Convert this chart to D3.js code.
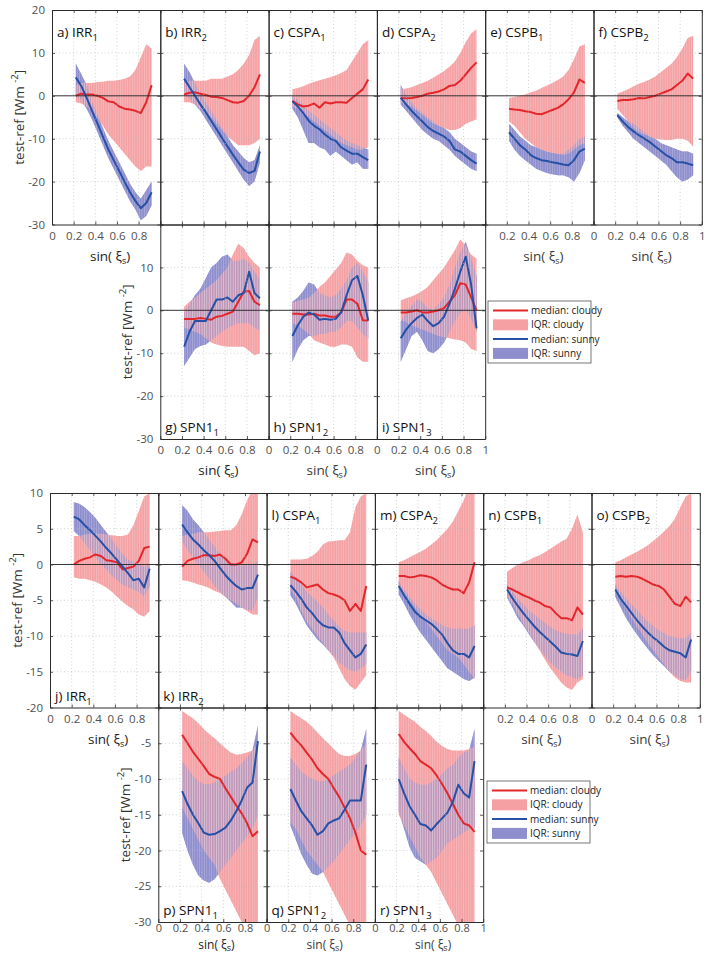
<!DOCTYPE html>
<html>
<head>
<meta charset="utf-8">
<script src="https://d3js.org/d3.v7.min.js"></script>
<style>
  body { margin: 0; background: #fff; }
  svg text { font-family: "Open Sans", "DejaVu Sans", sans-serif; }
</style>
</head>
<body>
<div id="chart"></div>
<script>
// sample positions along sin(xi_s)
var sinX = [0.22,0.27,0.32,0.37,0.42,0.47,0.52,0.57,0.62,0.67,0.72,0.77,0.82,0.87,0.92];

// ---- upper figure ----
// a) IRR1
var a_cMed = [0,0.5,0.3,0.3,0,-0.5,-1.3,-1.5,-2.5,-3,-3.2,-3.5,-4,-1.5,2.5];
var a_cLo  = [-1.5,-1.8,-2.5,-3.5,-5,-7,-9,-10.5,-12,-13.5,-15,-16.5,-17.5,-16.5,-16.5];
var a_cHi  = [2.5,3,3,3,3.2,3.3,3.5,3.5,3.7,4,4.5,6,9,12,11];
var a_sMed = [4.3,2.3,-0.5,-3.5,-6.5,-9.5,-12.5,-15,-17.5,-20,-22.5,-24.5,-26.2,-25,-22.5];
var a_sLo  = [0,-1,-3,-5.5,-8.5,-11.5,-14.5,-17,-19.5,-22,-24.5,-26.5,-29,-28,-25.5];
var a_sHi  = [7.5,5,2.5,-1.5,-4.5,-7.5,-10.5,-13,-15.5,-18,-20.5,-22.5,-24,-22,-20];
// b) IRR2
var b_cMed = [0.3,0.7,0.8,0.5,0.2,-0.2,-0.3,-0.5,-1,-1.5,-1.6,-1.2,0,2,5];
var b_cLo  = [-1.5,-1.5,-2,-3,-4,-5,-6.5,-8,-9.5,-10.5,-11.5,-11.5,-11.5,-11,-10];
var b_cHi  = [3,3.5,3.5,3.5,3.5,4,4,4,4.5,5,6,7.5,9.5,13,14];
var b_sMed = [4,2,0,-2,-3.8,-5.8,-7.8,-9.8,-11.8,-13.7,-15.5,-17.2,-18,-17.5,-13];
var b_sLo  = [1,-0.5,-2,-3.5,-5.5,-7.5,-9.5,-11.5,-13.5,-15.5,-17.5,-19.5,-21,-20,-15.5];
var b_sHi  = [7.5,5.5,3,0.5,-1.5,-3.5,-5.5,-7.5,-9.5,-11.5,-13,-14.5,-15.5,-15,-11.5];
// c) CSPA1
var c_cMed = [-1.2,-2,-2.5,-2.3,-1.8,-2.8,-1.5,-1.8,-1.5,-1.5,-1.6,-0.5,0.5,1.5,3.8];
var c_cLo  = [-2.5,-3,-4,-5,-6,-7,-8,-9,-10,-11,-11.5,-12,-12.5,-12.5,-12];
var c_cHi  = [1.5,1.8,2.2,2.8,3.2,3.6,4,4.3,4.8,5.3,6,8,10,12,13];
var c_sMed = [-1.3,-2.5,-4,-5.8,-7,-7.8,-9,-10,-10.5,-12,-12.8,-13.5,-13.5,-14.3,-15];
var c_sLo  = [-3,-5,-8,-11,-11,-12,-12.5,-14,-13,-14,-15,-16,-15.5,-17,-17];
var c_sHi  = [0,-1,-2,-3.5,-4.5,-5.5,-6.5,-7.5,-8.5,-9.5,-10.5,-11,-11.5,-12,-12.5];
// d) CSPA2
var d_cMed = [-0.5,-0.6,-0.5,-0.3,0,0.5,0.7,1,1.5,2.3,2.5,3.5,5,6.5,7.8];
var d_cLo  = [-1.5,-2,-2.5,-3.5,-4.5,-5.5,-6.5,-7,-7.5,-8,-8,-7.5,-6.5,-6,-5.5];
var d_cHi  = [1.5,1.7,2,2.5,3,3.5,4.2,5,5.8,6.8,8,10,12.5,14.5,15.5];
var d_sMed = [-0.5,-2,-3.5,-4.8,-6,-7.3,-8.2,-8.8,-9.5,-10.5,-12.5,-13,-14,-15,-15.8];
var d_sLo  = [-2,-3.5,-5,-6.5,-8,-9,-10,-10.5,-11.5,-12.5,-14,-15,-16,-17,-17.5];
var d_sHi  = [2.5,0,-1.5,-3,-4,-5,-6,-7,-7.5,-8.5,-10,-11,-12,-13,-13.5];
// e) CSPB1
var e_cMed = [-3,-3.2,-3.3,-3.6,-3.8,-4.2,-4.3,-3.8,-3.3,-2.8,-2,-0.8,0.8,3.8,3];
var e_cLo  = [-6,-7,-8.5,-10,-11,-12,-12.5,-13,-13.3,-13.5,-13.8,-13.5,-12.5,-11.5,-11];
var e_cHi  = [-0.5,-0.3,0,0.3,0.8,1.2,1.8,2.4,3,3.7,4.5,6,8.5,11.5,12];
var e_sMed = [-8.5,-10,-11.5,-12.5,-13.8,-14.5,-15,-15.2,-15.5,-15.7,-16,-16.2,-15,-13,-12.3];
var e_sLo  = [-10.5,-12.5,-14,-15,-16,-17,-17.5,-18,-18.3,-18.5,-18.5,-19,-20,-18,-15];
var e_sHi  = [-6.5,-8,-9.5,-10.5,-11.5,-12,-12.5,-13,-13.3,-13.5,-13.5,-12.5,-11.5,-10,-9.5];
// f) CSPB2
var f_cMed = [-1.2,-1,-1,-0.8,-0.5,-0.6,-0.3,0,0.5,1,1.5,2.5,3.5,5.2,4];
var f_cLo  = [-3,-4.5,-6,-7.5,-8.5,-9,-9.5,-10,-10.2,-10.3,-10.3,-10,-10,-10.5,-11.8];
var f_cHi  = [0.5,1,1.5,2.2,2.8,3.3,3.8,4.5,5.5,6.5,7.5,9,11,13.5,14];
var f_sMed = [-4.5,-6,-7.3,-8.3,-9.2,-10,-10.8,-11.8,-12.8,-13.8,-14.5,-15.5,-15.5,-15.8,-16.2];
var f_sLo  = [-5,-7,-8.5,-10,-11,-12,-13,-14,-15,-16,-17.5,-19,-20,-19.5,-18.5];
var f_sHi  = [-4,-5,-6,-6.5,-7.5,-8.5,-9.5,-10,-11,-11.5,-12,-12.5,-13,-13,-13.5];
// g) SPN1_1
var g_cMed = [-2,-2,-2,-1.8,-2,-2.2,-1.5,-1.3,-0.8,-0.3,2,4.3,4.5,2,1.2];
var g_cLo  = [-4,-4.5,-5,-5.5,-6.5,-7.5,-8,-8.3,-8.5,-8.5,-8.5,-8.5,-9.5,-10.5,-10];
var g_cHi  = [0.8,2,3,4,5,6,7,8.5,10,13,15.5,14.5,12.5,11,10];
var g_sMed = [-8.5,-5,-2.5,-2.5,-2.5,0,2.5,2.5,3,2,3.5,4,9,4,2.8];
var g_sLo  = [-13,-11,-9,-8.3,-8,-7,-6,-5,-4.2,-3.5,-3,-3,-3,-4,-4.8];
var g_sHi  = [-0.5,1.5,3.5,5,7.5,10,11,12.5,13,11.5,11.5,12,11,9,7];
// h) SPN1_2
var h_cMed = [-0.8,-0.8,-1,-1,-0.8,-1.2,-1.2,-1.5,-1.5,-0.5,2.5,2.5,1.5,-2.3,-2.4];
var h_cLo  = [-3,-3.5,-4.5,-5.5,-7,-7.5,-8,-8.5,-8.5,-8,-8,-8.5,-11,-12,-12];
var h_cHi  = [1.8,2.2,2.5,3,4,5.5,6.5,8,9.5,11,13.5,13,11.5,10.5,10];
var h_sMed = [-6,-3.5,-1.5,-0.5,-1,-2.2,-2,-2.2,-2,-0.5,3.5,7,8,3.5,-2.4];
var h_sLo  = [-12,-9,-7,-6,-6,-5.5,-5.5,-5,-5,-4,-2.5,-2.5,-4,-5.5,-6.5];
var h_sHi  = [2,3,4.5,6.5,6,4,3.5,3,3.5,5,7,10,11,9,6.5];
// i) SPN1_3
var i_cMed = [-0.5,-0.5,-0.3,0,-0.5,-0.5,-0.3,0,0.5,2,3.5,6.3,6,3,0];
var i_cLo  = [-2.2,-2.8,-3.5,-4,-4.5,-5,-5.5,-6,-6.3,-6.5,-6.8,-7,-7.5,-9,-9.5];
var i_cHi  = [2.3,2.8,3.2,3.8,4.5,5.5,7,8.5,10,12,14,16.5,15,13,12];
var i_sMed = [-6.5,-4.5,-3,-1.8,-1,-2.5,-3.7,-3,-1.5,1.5,5,9,12.5,6,-4.2];
var i_sLo  = [-12,-9,-6,-5,-7,-9.5,-10,-9,-7.5,-5,-2.5,-0.5,0,-2,-5];
var i_sHi  = [-2.5,-0.5,1,2.5,2,0.5,0,1.5,3,6,10,13.5,16,12,8];

// ---- lower figure ----
// j) IRR1
var j_cMed = [0,0.5,0.8,1,1.4,1.2,0.6,0.5,0.3,-0.7,-0.5,-0.3,0.5,2.3,2.5];
var j_cLo  = [-1.8,-2,-2,-2.2,-2.4,-2.8,-3.2,-3.8,-4.5,-5.2,-5.8,-6.3,-7,-7.3,-6.5];
var j_cHi  = [4,4,4.2,4.3,4.3,4.3,4.2,4.1,4,4,4.2,5.5,7.5,9.5,10];
var j_sMed = [6.7,6.3,5.5,4.8,4,3.2,2.3,1.5,0.6,-0.3,-1.2,-2.2,-2,-3.2,-0.6];
var j_sLo  = [4.7,4,3,2,1,0,-0.7,-1.5,-2.2,-2.8,-3.2,-3.5,-3.8,-4.5,-3];
var j_sHi  = [8.7,8.5,8,7.3,6.5,5.5,4.5,3.5,2.5,1.5,0.7,0.3,0,-0.3,0];
// k) IRR2
var k_cMed = [-0.3,0.5,0.8,1,1.3,1.3,1.2,1.4,0.8,0,0,0.3,1.5,3.5,3.1];
var k_cLo  = [-2.2,-2.3,-2.5,-2.8,-3,-3.3,-3.7,-4,-4.5,-5,-5.5,-6,-6.5,-7,-7];
var k_cHi  = [4,4.2,4.3,4.5,4.5,4.5,4.6,4.7,4.8,4.8,5.5,7,9,10.5,11];
var k_sMed = [5.6,4.5,3.5,2.8,2,1.3,0.5,-0.5,-1.5,-2.3,-3,-3.5,-3.3,-3.3,-1.4];
var k_sLo  = [3.3,2,1,0,-1,-2,-3,-3.8,-4.5,-5.2,-6,-6,-6.3,-6.5,-4.5];
var k_sHi  = [8.3,7.5,6.3,5.5,4.5,3.5,2.5,1.5,0.8,0.3,0,-0.2,0,0,0.5];
// l) CSPA1
var l_cMed = [-1.7,-2,-2.5,-3.2,-3,-2.8,-3.5,-4,-4.2,-4.5,-5,-6.5,-5.5,-6.5,-3];
var l_cLo  = [-3.5,-4.5,-6.5,-8,-9,-10,-11,-12,-13,-14.5,-16,-17,-17.5,-16.5,-15.5];
var l_cHi  = [0.7,0.7,0.7,0.8,1.2,1.8,2.8,3.2,3.3,3.4,3.4,4.5,8,9.5,10];
var l_sMed = [-2.9,-3.8,-4.8,-6,-6.8,-7.8,-8.5,-8.8,-8.8,-9.5,-11,-12,-13,-12.5,-11.2];
var l_sLo  = [-4.3,-5.5,-7,-8.5,-9.5,-10.5,-11.2,-12,-12.8,-13.7,-14.3,-14.8,-15,-14.5,-14];
var l_sHi  = [-1,-1.8,-2.8,-3.8,-4.5,-5.2,-6,-7,-7.8,-8.7,-9.3,-9.5,-9.5,-9.5,-9.5];
// m) CSPA2
var m_cMed = [-1.6,-1.6,-1.8,-1.7,-1.5,-1.6,-1.8,-2.2,-2.8,-3.2,-3.5,-3.5,-4,-2.5,0.3];
var m_cLo  = [-3,-4,-5,-6,-7,-8,-9,-10,-11,-12,-12.5,-13,-14,-15,-16];
var m_cHi  = [0.3,0.6,1,1.4,1.8,2.2,2.8,3.4,4.2,5,6,7.5,9,11,12];
var m_sMed = [-3,-4.3,-5.5,-6.6,-7.3,-7.8,-8.3,-9,-9.8,-11,-12,-12.5,-12.5,-13,-11.4];
var m_sLo  = [-4.2,-5.5,-7,-8.3,-9.5,-10.5,-11.5,-12.5,-13.5,-14.5,-15,-15.5,-16,-16.3,-15.8];
var m_sHi  = [-2.3,-3.5,-4.5,-5.5,-6.2,-7,-7.5,-8,-8.5,-8.8,-9,-9,-9,-9,-8.5];
// n) CSPB1
var n_cMed = [-3.2,-3.5,-3.9,-4.3,-4.6,-5,-5.3,-5.8,-6,-6.8,-7.5,-7.5,-7.8,-6,-7];
var n_cLo  = [-4.5,-5.5,-7,-8.3,-9.5,-10.8,-12,-13.3,-14.5,-15.5,-16.5,-17.2,-17.5,-16.5,-16];
var n_cHi  = [-1,-0.5,0,0.3,0.6,1,1.3,1.7,2.2,2.7,3.2,3.6,5,7,4.5];
var n_sMed = [-3.5,-4.7,-5.8,-6.8,-7.7,-8.6,-9.4,-10.1,-10.8,-11.5,-12.3,-12.5,-12.6,-12.8,-10.7];
var n_sLo  = [-4.6,-6,-7.5,-8.5,-9.7,-10.8,-11.8,-12.8,-13.7,-14.4,-15,-15.5,-15.8,-16,-15.5];
var n_sHi  = [-2.8,-3.8,-4.8,-5.6,-6.4,-7,-7.6,-8.2,-8.7,-9.2,-9.5,-9.7,-9.8,-9.8,-9];
// o) CSPB2
var o_cMed = [-1.7,-1.6,-1.7,-1.6,-1.7,-2,-2.4,-2.8,-3,-3.5,-4.5,-5.5,-5.8,-4.5,-5.3];
var o_cLo  = [-3.8,-5,-6.2,-7.5,-8.7,-9.8,-11,-12,-13,-14,-15,-15.8,-16.3,-16.5,-16.5];
var o_cHi  = [0.3,0.6,1,1.4,1.8,2.2,2.7,3.3,3.9,4.6,5.4,6.4,8,9.5,10];
var o_sMed = [-3.5,-4.8,-5.8,-6.8,-7.8,-8.7,-9.5,-10.2,-10.8,-11.5,-12,-12.2,-12.4,-13,-10.5];
var o_sLo  = [-4.5,-6,-7.5,-8.7,-9.8,-10.8,-11.8,-12.7,-13.5,-14.2,-15,-15.5,-16,-16.2,-15];
var o_sHi  = [-2.8,-3.8,-4.8,-5.6,-6.4,-7.2,-8,-8.6,-9.2,-9.6,-10,-10.2,-10.3,-10.3,-9.5];
// p) SPN1_1
var p_cMed = [-3.8,-5,-6.2,-7.2,-8.2,-9.3,-9.7,-10,-11.3,-12.5,-13.7,-14.8,-16.2,-18,-17.3];
var p_cLo  = [-14,-15.5,-17,-18.5,-20,-21,-22,-24,-25.5,-27,-28.5,-30,-31,-32,-32];
var p_cHi  = [-0.5,-1,-1.5,-2.2,-3,-3.7,-4.3,-5,-5.7,-6.3,-6.6,-6.5,-6.3,-6,-5];
var p_sMed = [-11.7,-13.5,-15,-16.2,-17.5,-17.8,-17.7,-17.3,-16.8,-15.8,-14.5,-13,-11.2,-10.5,-4.7];
var p_sLo  = [-17.5,-20,-22,-23.5,-24.2,-24.5,-24,-23,-22,-21,-20,-19,-18,-17,-15];
var p_sHi  = [-7.5,-8.5,-9.5,-10.3,-10.7,-10.7,-10.5,-10,-9.5,-9,-8.5,-7.8,-7,-6,-2.5];
// q) SPN1_2
var q_cMed = [-3.5,-4.5,-5.3,-6.3,-7.3,-8.5,-9.3,-10,-11.3,-12.5,-14,-15.5,-17.5,-20,-20.6];
var q_cLo  = [-16,-17,-18.5,-20,-21,-22,-23,-24.5,-26,-27.5,-29,-30.5,-31,-32,-32];
var q_cHi  = [-0.5,-1,-1.5,-2,-2.7,-3.5,-4.3,-5,-5.8,-6.5,-6.8,-6.8,-6.5,-6,-5];
var q_sMed = [-11.4,-13,-14.5,-15.5,-16.5,-17.8,-17.3,-16.2,-15.8,-15.5,-14.3,-13,-13,-13,-8];
var q_sLo  = [-16.5,-18.5,-20.5,-22,-23.2,-23.5,-23,-22.3,-21.5,-20.5,-19.5,-18.5,-17.5,-16.5,-15];
var q_sHi  = [-7,-8,-9,-9.5,-10,-10.3,-10.3,-10,-9.5,-9,-8.5,-8,-7,-6,-3];
// r) SPN1_3
var r_cMed = [-3.7,-4.8,-5.7,-6.5,-7.5,-8,-8.5,-9.5,-10.7,-12,-13.5,-15,-16.2,-16.5,-17.4];
var r_cLo  = [-15,-16.5,-18,-19.5,-21,-22,-23,-24.5,-26,-27.5,-29,-30.5,-31,-31,-31];
var r_cHi  = [-0.5,-1,-1.5,-2,-2.7,-3.3,-4,-4.8,-5.4,-5.8,-6,-6,-6,-5.8,-5.5];
var r_sMed = [-10,-12,-13.8,-15,-16.3,-16.5,-17.2,-16.3,-15.5,-14.7,-13.2,-10.8,-12,-12.6,-7.5];
var r_sLo  = [-14.5,-17,-19.5,-21,-21.5,-22,-21.5,-21,-20,-19,-18.5,-18,-17.5,-17,-17];
var r_sHi  = [-7,-8.5,-10,-10.5,-10.8,-10.8,-10.5,-10,-9.3,-8.5,-8,-7,-6.3,-6,-3];

var xTickAll = [0,0.2,0.4,0.6,0.8,1];
var legendNames = ["median: cloudy","IQR: cloudy","median: sunny","IQR: sunny"];

var col = {
  redLine: "#e3262b", redFill: "#f5a1a4", blueLine: "#2550a6", blueFill: "#8e8ece",
  axis: "#2b2b2b", tick: "#505050", grid: "#b9b9b9"
};

// figure layout: two blocks, each with a row of six and a row of three panels
var W = 108.3, H = 214.5;
var blocks = [
  { top: 10, left: 52, legend: [488, 301],
    rows: [ { dom: [-30, 20], step: 10, lab: [20,10,0,-10,-20,-30] },
            { dom: [-30, 20], step: 10, lab: [10,0,-10,-20,-30] } ] },
  { top: 493, left: 50, legend: [487, 781],
    rows: [ { dom: [-20, 10], step: 5, lab: [10,5,0,-5,-10,-15,-20] },
            { dom: [-30, 0], step: 5, lab: [-5,-10,-15,-20,-25,-30] } ] }
];

var X8 = [0,0.2,0.4,0.6,0.8], X10 = [0,0.2,0.4,0.6,0.8,1], X28 = [0.2,0.4,0.6,0.8];
var panels = [
  { t:"a) IRR", s:"1", b:0, r:0, c:0, pos:"top", xl:X8, yl:true, d:[a_cMed,a_cLo,a_cHi,a_sMed,a_sLo,a_sHi] },
  { t:"b) IRR", s:"2", b:0, r:0, c:1, pos:"top", xl:null, d:[b_cMed,b_cLo,b_cHi,b_sMed,b_sLo,b_sHi] },
  { t:"c) CSPA", s:"1", b:0, r:0, c:2, pos:"top", xl:null, d:[c_cMed,c_cLo,c_cHi,c_sMed,c_sLo,c_sHi] },
  { t:"d) CSPA", s:"2", b:0, r:0, c:3, pos:"top", xl:null, d:[d_cMed,d_cLo,d_cHi,d_sMed,d_sLo,d_sHi] },
  { t:"e) CSPB", s:"1", b:0, r:0, c:4, pos:"top", xl:X28, d:[e_cMed,e_cLo,e_cHi,e_sMed,e_sLo,e_sHi] },
  { t:"f) CSPB", s:"2", b:0, r:0, c:5, pos:"top", xl:X10, d:[f_cMed,f_cLo,f_cHi,f_sMed,f_sLo,f_sHi] },
  { t:"g) SPN1", s:"1", b:0, r:1, c:1, pos:"bottom", xl:X8, yl:true, d:[g_cMed,g_cLo,g_cHi,g_sMed,g_sLo,g_sHi] },
  { t:"h) SPN1", s:"2", b:0, r:1, c:2, pos:"bottom", xl:X8, d:[h_cMed,h_cLo,h_cHi,h_sMed,h_sLo,h_sHi] },
  { t:"i) SPN1", s:"3", b:0, r:1, c:3, pos:"bottom", xl:X10, d:[i_cMed,i_cLo,i_cHi,i_sMed,i_sLo,i_sHi] },
  { t:"j) IRR", s:"1", b:1, r:0, c:0, pos:"bottom", xl:X8, yl:true, d:[j_cMed,j_cLo,j_cHi,j_sMed,j_sLo,j_sHi] },
  { t:"k) IRR", s:"2", b:1, r:0, c:1, pos:"bottom", xl:null, d:[k_cMed,k_cLo,k_cHi,k_sMed,k_sLo,k_sHi] },
  { t:"l) CSPA", s:"1", b:1, r:0, c:2, pos:"top", xl:null, d:[l_cMed,l_cLo,l_cHi,l_sMed,l_sLo,l_sHi] },
  { t:"m) CSPA", s:"2", b:1, r:0, c:3, pos:"top", xl:null, d:[m_cMed,m_cLo,m_cHi,m_sMed,m_sLo,m_sHi] },
  { t:"n) CSPB", s:"1", b:1, r:0, c:4, pos:"top", xl:X28, d:[n_cMed,n_cLo,n_cHi,n_sMed,n_sLo,n_sHi] },
  { t:"o) CSPB", s:"2", b:1, r:0, c:5, pos:"top", xl:X10, d:[o_cMed,o_cLo,o_cHi,o_sMed,o_sLo,o_sHi] },
  { t:"p) SPN1", s:"1", b:1, r:1, c:1, pos:"bottom", xl:X8, yl:true, d:[p_cMed,p_cLo,p_cHi,p_sMed,p_sLo,p_sHi] },
  { t:"q) SPN1", s:"2", b:1, r:1, c:2, pos:"bottom", xl:X8, d:[q_cMed,q_cLo,q_cHi,q_sMed,q_sLo,q_sHi] },
  { t:"r) SPN1", s:"3", b:1, r:1, c:3, pos:"bottom", xl:X10, d:[r_cMed,r_cLo,r_cHi,r_sMed,r_sLo,r_sHi] }
];

var svg = d3.select("#chart").append("svg")
  .attr("width", 706).attr("height", 954);

var defs = svg.append("defs");
// thin vertical streaks like the patch seams of the original
var pat = defs.append("pattern").attr("id", "streaks").attr("patternUnits", "userSpaceOnUse")
  .attr("width", 2.4).attr("height", 10);
pat.append("rect").attr("x", 0).attr("y", 0).attr("width", 0.7).attr("height", 10)
  .attr("fill", "#fff").attr("fill-opacity", 0.28);

panels.forEach(function (p, k) {
  var blk = blocks[p.b], row = blk.rows[p.r];
  var left = blk.left + p.c * W, top = blk.top + p.r * H;
  var x = d3.scaleLinear().domain([0, 1]).range([left, left + W]);
  var y = d3.scaleLinear().domain(row.dom).range([top + H, top]);
  var yTicks = d3.range(row.dom[0], row.dom[1] + 0.001, row.step);
  var lastRow = top + H > 900;

  var g = svg.append("g");

  defs.append("clipPath").attr("id", "clip" + k).append("rect")
    .attr("x", left).attr("y", top).attr("width", W).attr("height", H);
  var plot = g.append("g").attr("clip-path", "url(#clip" + k + ")");

  var area = function (lo, hi) {
    return d3.area().x(function (d, i) { return x(sinX[i]); })
      .y0(function (d, i) { return y(lo[i]); })
      .y1(function (d, i) { return y(hi[i]); })(sinX);
  };
  var line = d3.line().x(function (d, i) { return x(sinX[i]); }).y(function (d) { return y(d); });

  // sunny band solid, cloudy band solid, then sunny again half-transparent:
  // overlap ends up as an even mix of the two colours
  var sunny = area(p.d[4], p.d[5]), cloudy = area(p.d[1], p.d[2]);
  plot.append("path").attr("d", sunny).attr("fill", col.blueFill);
  plot.append("path").attr("d", cloudy).attr("fill", col.redFill);
  plot.append("path").attr("d", sunny).attr("fill", col.blueFill).attr("fill-opacity", 0.5);
  plot.append("path").attr("d", cloudy).attr("fill", "url(#streaks)");
  plot.append("path").attr("d", sunny).attr("fill", "url(#streaks)");

  // dotted grid (drawn over the bands, as in the original)
  g.selectAll(".gx").data([0.2, 0.4, 0.6, 0.8]).enter().append("line")
    .attr("x1", x).attr("x2", x).attr("y1", top).attr("y2", top + H)
    .attr("stroke", col.grid).attr("stroke-width", 0.8).attr("stroke-dasharray", "1,2.5")
    .attr("stroke-opacity", 0.8);
  g.selectAll(".gy").data(yTicks.slice(1, -1)).enter().append("line")
    .attr("x1", left).attr("x2", left + W).attr("y1", y).attr("y2", y)
    .attr("stroke", col.grid).attr("stroke-width", 0.8).attr("stroke-dasharray", "1,2.5")
    .attr("stroke-opacity", 0.8);

  if (row.dom[0] < 0 && row.dom[1] > 0) {
    g.append("line").attr("x1", left).attr("x2", left + W)
      .attr("y1", y(0)).attr("y2", y(0))
      .attr("stroke", "#222").attr("stroke-width", 0.9);
  }

  plot.append("path").attr("d", line(p.d[0])).attr("fill", "none")
    .attr("stroke", col.redLine).attr("stroke-width", 2).attr("stroke-linejoin", "round");
  plot.append("path").attr("d", line(p.d[3])).attr("fill", "none")
    .attr("stroke", col.blueLine).attr("stroke-width", 2).attr("stroke-linejoin", "round");

  // box with inward ticks on all four sides
  var noLab = function () { return ""; };
  [[d3.axisBottom(x), "translate(0," + (top + H) + ")", xTickAll],
   [d3.axisTop(x), "translate(0," + top + ")", xTickAll],
   [d3.axisLeft(y), "translate(" + left + ",0)", yTicks],
   [d3.axisRight(y), "translate(" + (left + W) + ",0)", yTicks]].forEach(function (a) {
    var ax = g.append("g").attr("transform", a[1])
      .call(a[0].tickValues(a[2]).tickSize(-3).tickSizeOuter(0).tickFormat(noLab));
    ax.selectAll("path").attr("stroke", col.axis).attr("stroke-width", 1);
    ax.selectAll("line").attr("stroke", col.axis).attr("stroke-width", 0.8);
  });

  // tick labels
  if (p.xl) {
    var xa = g.append("g").attr("transform", "translate(0," + (top + H) + ")")
      .call(d3.axisBottom(x).tickValues(p.xl).tickSize(0).tickPadding(lastRow ? 2 : 7)
        .tickFormat(function (d) { return String(d); }));
    xa.select(".domain").remove();
    xa.selectAll("text").attr("fill", col.tick).style("font-size", lastRow ? "11px" : "11.5px");

    var xt = g.append("text").attr("x", left + W / 2 + 4).attr("y", lastRow ? 949 : top + H + 36)
      .attr("text-anchor", "middle").attr("fill", p.yl ? "#222" : "#3a3a3a")
      .style("font-size", lastRow ? "12px" : "13.5px");
    xt.append("tspan").text("sin( \u03be");
    xt.append("tspan").attr("dy", lastRow ? 2 : 3).style("font-size", "9px").text("s");
    xt.append("tspan").attr("dy", lastRow ? -2 : -3).text(")");
  }
  if (p.yl) {
    var ya = g.append("g").attr("transform", "translate(" + left + ",0)")
      .call(d3.axisLeft(y).tickValues(row.lab).tickSize(0).tickPadding(7)
        .tickFormat(function (d) { return String(d); }));
    ya.select(".domain").remove();
    ya.selectAll("text").attr("fill", col.tick).style("font-size", "11.5px");

    var yt = g.append("text")
      .attr("transform", "translate(" + (left - 28) + "," + (top + H / 2) + ") rotate(-90)")
      .attr("text-anchor", "middle").attr("fill", "#333").style("font-size", "13.5px");
    yt.append("tspan").text("test-ref [Wm ");
    yt.append("tspan").attr("dy", -6).style("font-size", "9.5px").text(" -2");
    yt.append("tspan").attr("dy", 6).text("]");
  }

  // panel title
  var ty = p.pos === "top" ? top + 27 : top + H - 7;
  var tt = g.append("text").attr("x", left + 5).attr("y", ty)
    .attr("fill", "#111").style("font-size", "13.5px");
  tt.append("tspan").text(p.t);
  tt.append("tspan").attr("dy", 4).style("font-size", "9.5px").text(p.s);
});

// legends
blocks.forEach(function (blk) {
  var lx = blk.legend[0], ly = blk.legend[1];
  var lg = svg.append("g");
  lg.append("rect").attr("x", lx).attr("y", ly).attr("width", 103).attr("height", 62)
    .attr("fill", "#fff").attr("stroke", "#555").attr("stroke-width", 0.8);
  legendNames.forEach(function (name, i) {
    var cy = ly + 9.5 + i * 14.3;
    if (i % 2 === 0) {
      lg.append("line").attr("x1", lx + 5).attr("x2", lx + 40).attr("y1", cy).attr("y2", cy)
        .attr("stroke", i === 0 ? col.redLine : col.blueLine).attr("stroke-width", 2);
    } else {
      lg.append("rect").attr("x", lx + 5).attr("y", cy - 5.5).attr("width", 35).attr("height", 11)
        .attr("fill", i === 1 ? col.redFill : col.blueFill);
    }
    lg.append("text").attr("x", lx + 43).attr("y", cy + 3.5)
      .attr("fill", "#222").style("font-size", "10px").text(name);
  });
});
</script>
</body>
</html>
